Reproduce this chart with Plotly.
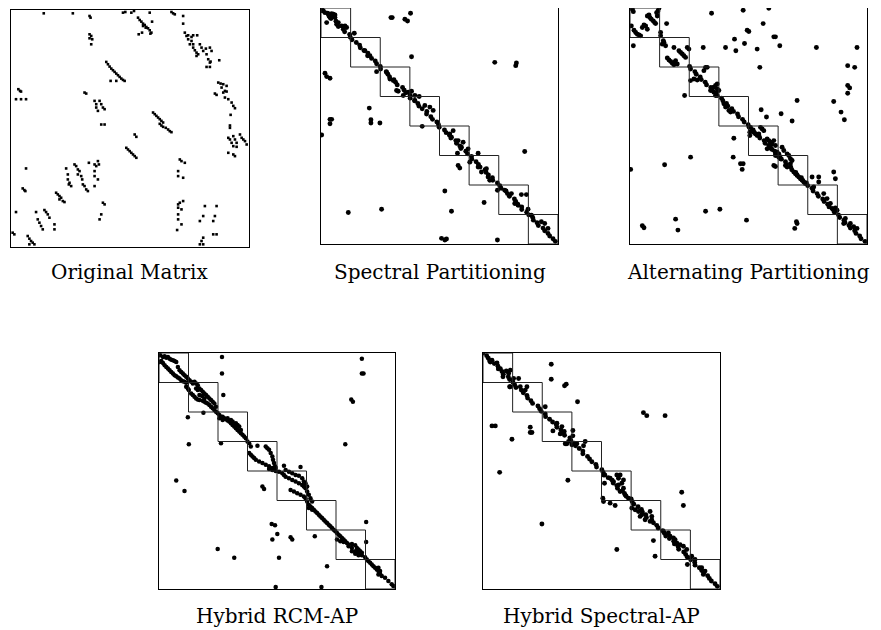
import plotly.graph_objects as go

N = 712          # matrix dimension (rows = cols)
NBLK = 8         # number of diagonal blocks drawn in partitioned panels

# ---------------- Original matrix: (column, row) of nonzeros ----------------
original_nz = [
    (98,10),(185,10),(235,18),(238,23),(335,8),(342,6),(360,8),(368,3),(415,8),(480,6),(485,10),(490,13),(515,18),(515,41),
    (380,23),(385,30),(390,35),(395,41),(400,45),(405,51),(410,55),(415,61),(420,68),(417,71),(395,48),(403,53),(422,35),(382,73),(392,68),
    (235,73),(240,78),(235,85),(243,88),(240,103),
    (520,68),(525,78),(530,76),(540,81),(545,76),(557,76),(530,88),(540,93),(535,103),(545,113),(550,121),(555,128),(555,138),
    (565,103),(570,113),(575,123),(583,116),(595,113),(600,123),(585,133),(590,148),(595,158),(585,171),(595,171),(597,155),
    (623,151),(545,103),(560,133),
    (285,156),(290,163),(295,170),(300,176),(305,181),(310,186),(315,191),(320,196),(325,201),(330,206),(335,210),(340,213),(298,213),(315,213),
    (22,238),(27,243),(30,245),(15,268),(30,268),(45,268),
    (220,248),(225,251),
    (250,273),(255,283),(265,273),(270,283),(255,293),(275,293),(280,298),(260,303),
    (620,218),(627,221),(635,223),(645,228),(630,233),(640,243),(635,248),(610,251),(615,255),(645,245),(640,263),(650,268),
    (660,278),(665,288),(670,295),(657,315),
    (425,308),(430,313),(435,318),(440,323),(445,328),(450,333),(455,338),
    (270,344),(280,344),
    (445,342),(450,347),(455,351),(463,354),(470,359),(475,364),(480,367),
    (370,374),(375,381),
    (655,347),(655,354),
    (650,384),(655,389),(665,379),(670,389),(675,399),(685,374),(690,384),(695,389),(700,394),(705,404),(660,399),(665,409),
    (675,411),(650,429),(665,434),(670,439),
    (345,414),(350,419),(355,424),(360,429),(365,434),(370,439),(375,444),
    (505,449),(510,454),(520,459),(500,484),(500,499),(515,504),
    (45,476),(35,536),(40,541),(43,544),
    (165,476),(170,494),(170,509),(175,519),(180,529),(173,524),(190,464),(195,469),(200,479),(205,484),(200,494),(210,499),
    (213,509),(215,524),(220,529),(225,539),(230,544),(233,459),(250,464),(255,469),(260,454),(263,464),(250,484),(250,499),
    (260,509),(250,529),
    (135,549),(140,554),(145,559),(150,564),(155,574),(160,577),(145,569),
    (15,607),(75,607),(80,629),(85,639),(90,649),(95,659),(100,601),(105,607),(110,614),(115,624),(130,644),(130,659),
    (5,669),(10,674),(50,679),(55,687),(60,694),(65,699),(70,704),(55,704),
    (275,579),(280,584),(270,614),(265,629),
    (500,584),(505,579),(515,574),(500,594),(510,599),(500,614),(500,629),(510,644),(497,661),
    (580,589),(615,589),(575,619),(610,619),(565,634),(605,634),(605,674),(615,674),(575,684),(570,694),(565,704),(575,704),
]

# ---------------- Spectral partitioning ----------------
spectral_diag_rows = [0,8,16,24,32,40,48,56,64,72,80,88,96,104,112,120,128,136,144,152,160,168,176,184,192,200,208,216,224,
                      232,240,248,256,264,272,280,288,296,304,312,320,328,336,344,352,360,368,376,384,392,400,408,416,424,
                      432,440,448,456,464,472,480,488,496,504,512,520,528,536,544,552,560,568,576,584,592,600,608,616,624,
                      632,640,648,656,664,672,680,688,696,704]
spectral_diag_cols = [2,5,20,24,30,45,49,52,67,71,86,88,93,106,116,118,129,141,140,152,163,167,178,179,196,201,206,219,224,
                      229,245,250,255,268,268,281,291,294,304,318,317,330,335,348,353,355,371,376,386,390,405,407,417,420,
                      435,440,452,453,466,473,478,493,496,503,515,516,530,537,541,556,560,566,581,585,591,603,603,618,624,
                      636,638,649,653,667,672,682,687,697,704]
spectral_nz = [
    (7,9),(12,14),(22,19),(32,17),(37,24),(42,29),(27,29),(17,44),(47,49),(52,44),(62,54),(72,54),(77,59),(37,19),(42,21),
    (210,29),(214,29),(252,34),(260,39),(269,16),(100,76),(272,147),(167,192),(522,164),(587,166),(585,174),(12,197),(17,207),
    (27,212),(145,302),(27,336),(32,336),(150,337),(150,347),(177,347),(27,349),
    (227,249),(232,251),(247,264),(262,254),(272,251),(282,264),(295,267),(312,294),(327,299),(337,309),(132,129),(147,144),
    (197,194),(207,214),(217,219),(282,279),
    (304,357),(2,383),
    (397,370),(387,380),(392,390),(412,400),(427,405),(422,420),(442,425),(472,438),(410,438),(412,475),(417,483),(447,465),
    (472,480),(497,485),(482,495),(502,510),(507,520),(530,550),(552,550),(572,560),(602,563),(617,563),(612,433),(582,590),
    (592,595),(622,607),(632,625),(662,645),(672,650),(682,665),(372,552),(490,587),(82,617),(182,607),(392,613),(362,695),
    (372,700),(377,697),(530,700),
]

# ---------------- Alternating partitioning ----------------
alternating_diag_rows = [176,184,192,200,208,216,224,232,240,248,256,264,272,280,288,296,304,312,320,328,336,344,352,360,
                         368,376,384,392,400,408,416,424,432,440,448,456,464,472,480,488,496,504,512,520,528,536,544,552,
                         560,568,576,584,592,600,608,616,624,632,640,648,656,664,672,680,688,696,704]
alternating_diag_cols = [179,182,195,199,211,214,226,230,243,247,258,262,275,279,290,294,306,311,323,326,338,343,355,358,
                         370,374,387,390,403,406,418,423,435,437,450,455,467,470,483,486,498,502,515,519,530,534,547,550,
                         562,566,579,583,594,598,611,614,626,630,643,646,658,662,675,679,690,694,706]
alternating_nz = [
    (7,4),(10,11),(87,1),(52,24),(57,21),(60,29),(64,34),(70,39),(74,44),(77,47),(82,24),(80,14),(84,9),(37,59),(42,51),
    (47,54),(52,64),(12,67),(17,74),(22,79),(27,81),(32,84),(4,54),(92,74),(92,84),(10,114),
    (100,99),(97,109),(102,104),(107,114),(132,119),(147,129),(152,134),(157,139),(162,144),(167,149),(172,119),(177,124),
    (112,151),(117,157),(122,161),(127,167),(132,171),(137,159),(132,164),(142,169),
    (110,47),(245,16),(340,7),(417,1),(400,47),(352,67),(357,71),(432,87),(437,87),(314,94),(344,107),(220,119),(287,119),
    (318,129),(382,124),(450,114),(560,119),(682,119),(390,179),(654,174),(675,179),(164,264),(502,279),(612,282),(654,234),
    (660,241),(654,257),(394,307),(410,329),(454,319),(487,341),(634,314),(644,337),
    (222,189),(227,179),(232,179),(182,219),(192,214),(202,217),(252,239),(257,234),(262,229),(262,244),(267,249),(252,254),
    (257,264),(242,249),
    (282,289),(287,299),(297,309),(302,314),
    (362,360),(367,370),(372,375),(377,380),(382,385),(387,380),(392,360),(397,365),(402,370),(360,375),(360,385),(412,395),
    (417,400),(422,405),(427,410),(432,400),(437,415),(417,415),(422,420),(427,427),(412,425),(442,435),(447,440),(437,445),
    (447,450),(452,455),(457,420),(462,430),(472,440),(477,445),(482,455),(487,460),(482,470),(467,475),(472,480),(432,475),
    (437,478),(492,495),(497,500),(502,505),(507,510),(512,515),(517,520),(522,525),(527,530),
    (547,510),(567,510),(567,525),(612,495),(617,515),(552,540),(582,560),(592,575),(597,593),(602,590),(607,605),(612,610),
    (622,610),(617,603),
    (647,635),(662,650),(672,660),(642,650),(682,665),
    (312,393),(332,470),(340,470),(337,487),(182,450),(104,473),(2,487),(310,450),(227,613),(270,607),(137,637),(144,670),
    (37,657),(42,663),(350,640),(500,645),(495,665),(502,650),
]

# ---------------- Hybrid RCM-AP ----------------
rcm_ap_nz = [
    (4,7),(12,12),(17,10),(22,14),(27,12),(32,17),(37,20),(42,22),(47,24),(52,27),(7,24),(2,27),(12,30),(17,37),(22,42),
    (27,47),(32,52),(37,57),(42,62),(47,67),(52,70),(57,74),(62,77),(67,82),(72,85),(77,87),(82,90),(57,42),(62,52),(67,57),
    (72,62),(77,67),(82,72),(87,77),(92,82),(97,87),(102,92),(107,87),(112,92),(117,97),
    (82,102),(87,107),(90,112),(97,122),(102,127),(107,132),(112,137),(117,140),(122,142),(132,144),(137,147),(142,150),
    (147,152),(152,157),(157,162),(162,167),(167,172),(172,177),(122,107),(127,112),(132,117),(137,122),(142,127),(147,132),
    (152,137),(157,142),(162,147),(167,152),(172,162),(122,127),(130,130),(137,137),(112,107),(117,112),
    (177,182),(182,187),(187,192),(192,192),(197,197),(202,200),(207,204),(212,207),(217,212),(222,217),(227,222),(232,227),
    (237,232),(242,237),(247,242),(252,247),(257,252),(262,257),(267,267),(182,197),(192,202),(207,197),(217,202),(222,207),
    (232,212),(237,217),(242,222),(247,232),
    (272,302),(277,307),(282,312),(287,317),(292,322),(302,327),(312,332),(322,337),(332,342),(342,347),(322,282),(327,287),
    (332,292),(337,302),(342,312),(344,322),(347,332),(350,342),(352,347),(297,280),(272,272),(277,282),
    (190,12),(190,62),(612,17),(612,62),(617,62),(580,140),(585,147),(194,127),(87,194),(134,180),(90,275),(187,272),
    (562,275),(377,340),(427,344),
    (332,350),(342,353),(352,356),(362,358),(372,363),(377,368),(382,373),(392,378),(402,383),(412,388),(422,393),(432,398),
    (437,403),(442,408),(447,418),(452,428),(457,438),(462,448),(382,353),(392,358),(402,363),(412,368),(422,370),(432,378),
    (437,388),(442,393),(447,403),(397,413),(407,418),(417,423),(427,428),(437,433),(442,438),
    (447,448),(452,458),(457,463),(462,468),(467,473),(472,478),(477,483),(482,488),(487,493),(492,498),(497,503),(502,508),
    (507,513),(512,518),(517,523),(522,528),(527,533),(452,468),(462,473),
    (532,538),(537,543),(542,548),(547,553),(552,558),(557,563),(562,568),(567,573),(572,578),(582,588),(592,598),(602,603),
    (612,610),(622,616),(537,563),(547,568),(557,570),(572,583),(582,576),(592,580),(597,588),(602,593),(607,598),(612,603),
    (582,598),(592,606),(602,610),(625,510),(625,570),
    (627,623),(632,628),(637,633),(642,638),(647,643),(652,648),(657,653),(662,658),(667,666),(672,673),(682,678),(692,688),
    (702,698),(707,703),(662,648),(667,658),(662,668),
    (52,385),(77,416),(312,403),(317,410),(340,516),(350,520),(357,546),(342,563),(397,556),(402,563),(470,553),(177,591),
    (227,618),(362,618),(507,643),(352,706),(490,706),
]

# ---------------- Hybrid Spectral-AP ----------------
spectral_ap_diag_rows = [0,8,16,24,32,40,48,56,64,72,80,88,96,104,112,120,128,136,144,152,160,168,176,184,192,200,208,216,
                         224,232,240,248,256,264,272,280,288,296,304,312,320,328,336,344,352,360,368,376,384,392,400,408,
                         416,424,432,440,448,456,464,472,480,488,496,504,512,520,528,536,544,552,560,568,576,584,592,600,
                         608,616,624,632,640,648,656,664,672,680,688,696,704]
spectral_ap_diag_cols = [0,11,16,20,34,45,46,57,61,76,80,90,95,99,115,121,132,134,144,149,165,170,175,187,188,200,209,220,
                         222,234,239,245,261,264,275,278,289,300,300,314,320,327,339,341,357,361,366,376,388,391,402,404,
                         419,425,430,445,448,453,466,476,479,489,491,507,512,522,526,540,545,549,560,573,575,586,588,603,
                         609,614,624,636,637,650,657,663,675,680,686,697,704]
spectral_ap_nz = [
    (205,34),(205,79),(245,99),(250,94),(284,147),(482,180),(492,189),(547,189),(27,220),(37,220),(142,224),(142,240),
    (147,240),(87,260),(210,235),(270,234),(270,250),(247,274),(252,274),(282,274),(307,267),(302,280),(80,102),(82,102),
    (107,77),(112,102),(132,102),(127,112),(187,162),(60,72),(70,54),(82,52),
    (22,27),(27,22),(42,30),(52,47),(77,62),(92,77),(222,212),(237,222),(257,267),(267,277),(232,244),(244,237),
    (50,360),(255,384),(177,516),(402,593),(512,566),(517,613),(597,420),(602,460),(614,638),(360,438),(362,448),(382,453),
    (397,460),(365,393),
    (362,368),(382,378),(392,388),(402,368),(407,398),(417,393),(422,408),(412,418),(427,428),(437,438),(447,468),(457,473),
    (467,478),(472,493),(477,488),(487,503),(502,478),(507,493),(502,508),(542,538),(557,543),(562,553),(572,558),(577,563),
    (582,573),(592,578),(602,583),(612,593),(627,613),(637,623),(657,648),(667,658),(662,668),(412,368),(422,383),(407,378),
]

# ---------------- Figure ----------------
# The page body adds a small margin, so the figure is shifted by OFF and sized to end at the window edge.
W, H = 874, 623
OFF = 7
FONT = "DejaVu Serif"

def split(pairs):
    return [p[0] for p in pairs], [p[1] for p in pairs]

def clamp(v):
    return min(1.0, max(0.0, v))

panels = [
    # title, (cols, rows), box (left, right, top, bottom) in window px, blocks, marker symbol, marker size, title y
    ("Original Matrix", split(original_nz), (10, 248, 9, 246), False, "square", 2.6, 271),
    ("Spectral Partitioning",
     (spectral_diag_cols + split(spectral_nz)[0], spectral_diag_rows + split(spectral_nz)[1]),
     (320, 557, 7, 243), True, "circle", 4.9, 271),
    ("Alternating Partitioning",
     (alternating_diag_cols + split(alternating_nz)[0], alternating_diag_rows + split(alternating_nz)[1]),
     (629, 866, 7, 243), True, "circle", 4.9, 271),
    ("Hybrid RCM-AP", split(rcm_ap_nz), (158, 394, 352, 588), True, "circle", 4.5, 615),
    ("Hybrid Spectral-AP",
     (spectral_ap_diag_cols + split(spectral_ap_nz)[0], spectral_ap_diag_rows + split(spectral_ap_nz)[1]),
     (482, 719, 352, 588), True, "circle", 4.9, 615),
]

fig = go.Figure()
shapes = []
annotations = []
layout = {}
blk = N / NBLK
for i, (title, (xs, ys), (l, r, t, b), blocks, sym, msz, ty) in enumerate(panels, start=1):
    l, r, t, b, ty = l - OFF, r - OFF, t - OFF, b - OFF, ty - OFF
    xa = "x" if i == 1 else f"x{i}"
    ya = "y" if i == 1 else f"y{i}"
    fig.add_trace(go.Scatter(
        x=xs, y=ys, mode="markers", xaxis=xa, yaxis=ya,
        marker=dict(symbol=sym, size=msz, color="black", line=dict(width=0)),
        showlegend=False, hoverinfo="skip"))
    ax = dict(domain=[clamp(l / W), clamp(r / W)], range=[0, N], showline=True, mirror=True, linecolor="black",
              linewidth=1.3, showticklabels=False, ticks="", showgrid=False, zeroline=False, fixedrange=True)
    ay = dict(domain=[clamp(1 - b / H), clamp(1 - t / H)], range=[N, 0], showline=True, mirror=True, linecolor="black",
              linewidth=1.3, showticklabels=False, ticks="", showgrid=False, zeroline=False, fixedrange=True)
    layout["xaxis" if i == 1 else f"xaxis{i}"] = dict(ax, anchor=ya)
    layout["yaxis" if i == 1 else f"yaxis{i}"] = dict(ay, anchor=xa)
    if blocks:
        for k in range(NBLK):
            shapes.append(dict(type="rect", xref=xa, yref=ya, x0=k * blk, x1=(k + 1) * blk,
                               y0=k * blk, y1=(k + 1) * blk, line=dict(color="#222", width=1)))
    annotations.append(dict(text=title, xref="paper", yref="paper", x=(l + r) / 2 / W, y=1 - ty / H,
                            xanchor="center", yanchor="middle", showarrow=False,
                            font=dict(family=FONT, size=20, color="black")))

fig.update_layout(width=W, height=H, margin=dict(l=0, r=0, t=0, b=0), paper_bgcolor="white",
                  plot_bgcolor="white", shapes=shapes, annotations=annotations, **layout)
fig.write_html("out.html")
